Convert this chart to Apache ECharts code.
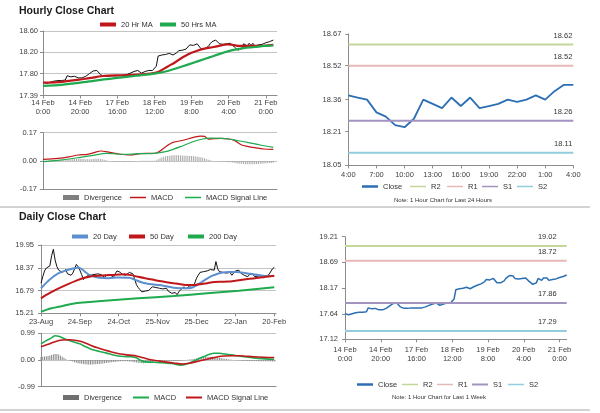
<!DOCTYPE html>
<html><head><meta charset="utf-8">
<script src="https://cdn.jsdelivr.net/npm/echarts@6/dist/echarts.min.js"></script>
<style>html,body{margin:0;padding:0;background:#fff}#c{width:600px;height:413px}</style>
</head><body><div id="c"></div>
<script>
// ---------- tick labels ----------
const hourTicks = ['14 Feb\n0:00','14 Feb\n20:00','17 Feb\n16:00','18 Feb\n12:00','19 Feb\n8:00','20 Feb\n4:00','21 Feb\n0:00'];
const last24Ticks = ['4:00','7:00','10:00','13:00','16:00','19:00','22:00','1:00','4:00'];
const dayTicks = ['23-Aug','24-Sep','24-Oct','25-Nov','25-Dec','22-Jan','20-Feb'];
const hourPriceTicks = [17.39, 17.80, 18.20, 18.60];
const last24PriceTicks = [18.05, 18.21, 18.36, 18.52, 18.67];
const weekPriceTicks = [17.12, 17.64, 18.17, 18.69, 19.21];
const dayPriceTicks = [15.21, 16.79, 18.37, 19.95];

// ---------- hourly data (index = hour since 14 Feb 0:00) ----------
const hourlyClose = [
17.64,17.63,17.62,17.62,17.64,17.65,17.66,17.67,17.67,17.67,
17.67,17.68,17.68,17.76,17.75,17.74,17.74,17.75,17.74,17.72,
17.72,17.72,17.73,17.75,17.78,17.80,17.82,17.85,17.85,17.86,
17.85,17.78,17.76,17.75,17.74,17.75,17.76,17.76,17.76,17.76,
17.76,17.76,17.76,17.76,17.77,17.78,17.79,17.81,17.83,17.84,
17.86,17.86,17.83,17.81,17.82,17.84,17.86,17.86,17.85,17.86,
17.88,17.94,18.13,18.14,18.15,18.16,18.16,18.17,18.18,18.17,
18.15,18.14,18.19,18.23,18.22,18.24,18.25,18.26,18.29,18.34,
18.32,18.33,18.32,18.36,18.33,18.27,18.26,18.27,18.29,18.31,
18.36,18.40,18.42,18.43,18.41,18.36,18.33,18.35,18.36,18.36,
18.38,18.37,18.36,18.30,18.28,18.24,18.23,18.27,18.36,18.34,
18.32,18.37,18.33,18.37,18.32,18.33,18.34,18.36,18.35,18.36,
18.38,18.36,18.40,18.43,18.43];
const ma20Hr = [[0,17.63],[8,17.64],[15,17.67],[22,17.70],[26,17.72],[33,17.76],[42,17.77],[51,17.78],[58,17.80],[62,17.83],[65,17.89],[68,17.95],[71,18.01],[74,18.08],[77,18.14],[80,18.19],[83,18.23],[87,18.27],[92,18.30],[96,18.33],[99,18.35],[102,18.34],[106,18.32],[110,18.32],[114,18.32],[118,18.32],[121,18.33],[124,18.34]];
const ma50Hr = [[0,17.57],[10,17.59],[20,17.63],[30,17.68],[40,17.72],[50,17.76],[60,17.80],[66,17.84],[72,17.90],[78,17.97],[84,18.04],[90,18.11],[96,18.18],[102,18.24],[108,18.28],[114,18.30],[119,18.32],[124,18.33]];
const macdHr = [[0,0.010],[8,0.016],[14,0.025],[19,0.036],[24,0.040],[28,0.052],[31,0.060],[36,0.052],[41,0.042],[47,0.036],[52,0.044],[61,0.048],[63,0.060],[65,0.076],[68,0.100],[70,0.112],[76,0.126],[81,0.142],[85,0.150],[87,0.148],[89,0.132],[92,0.134],[96,0.136],[100,0.132],[103,0.124],[105,0.110],[107,0.096],[110,0.088],[114,0.080],[119,0.072],[124,0.070]];
const signalHr = [[0,-0.004],[8,0.004],[14,0.012],[20,0.022],[27,0.034],[34,0.046],[40,0.042],[46,0.040],[53,0.044],[60,0.046],[66,0.056],[70,0.070],[74,0.086],[78,0.104],[82,0.120],[86,0.132],[90,0.137],[96,0.136],[100,0.132],[104,0.124],[110,0.112],[117,0.096],[124,0.082]];
const divHr = [
0.002,0.002,0.003,0.003,0.004,0.004,0.005,0.005,0.006,0.006,
0.007,0.007,0.008,0.009,0.010,0.010,0.011,0.012,0.012,0.013,
0.013,0.012,0.012,0.011,0.010,0.010,0.011,0.012,0.013,0.014,
0.014,0.012,0.010,0.008,0.005,0.002,0.000,-0.002,-0.003,-0.004,
-0.005,-0.005,-0.005,-0.006,-0.006,-0.005,-0.005,-0.004,-0.003,-0.002,
-0.001,0.000,0.000,0.001,0.001,0.001,0.002,0.002,0.002,0.002,
0.002,0.004,0.010,0.016,0.021,0.025,0.028,0.030,0.032,0.033,
0.034,0.035,0.034,0.034,0.033,0.033,0.032,0.032,0.031,0.030,
0.030,0.029,0.028,0.026,0.024,0.022,0.019,0.016,0.012,0.008,
0.004,0.002,0.000,-0.001,-0.002,-0.002,-0.003,-0.004,-0.005,-0.006,
-0.007,-0.008,-0.009,-0.011,-0.013,-0.015,-0.016,-0.017,-0.018,-0.019,
-0.019,-0.020,-0.020,-0.019,-0.019,-0.018,-0.018,-0.017,-0.016,-0.015,
-0.014,-0.013,-0.012,-0.012,-0.011];

// ---------- pivot levels ----------
const levelNames = ['R2','R1','S1','S2'];
const levels24h = [18.62, 18.52, 18.26, 18.11];
const levelsWeek = [19.02, 18.72, 17.86, 17.29];

// ---------- daily data (index = trading day since 23-Aug) ----------
const dailyClose = [
17.30,17.75,18.15,18.35,18.25,18.50,19.20,19.65,18.90,18.45,
18.20,18.30,18.05,18.15,18.25,17.95,18.05,17.85,18.00,18.30,
18.60,18.45,18.20,17.90,17.55,17.65,17.80,17.70,17.85,17.75,
17.90,17.80,17.95,17.85,17.90,17.80,17.70,17.85,17.75,17.90,
17.80,17.70,17.95,18.15,18.25,18.05,17.90,17.95,17.85,17.95,
18.05,18.00,17.95,17.60,17.20,17.00,16.85,16.70,16.80,16.75,
16.65,16.80,16.90,17.05,17.15,17.00,17.10,16.95,17.05,16.90,
16.80,16.95,16.75,16.85,16.60,16.55,16.65,16.50,16.70,16.85,
16.95,17.05,16.90,17.00,17.10,17.05,17.15,17.30,17.65,17.85,
18.05,17.95,18.10,18.00,18.15,18.05,18.25,18.35,18.20,18.80,
18.30,18.10,18.20,18.05,17.95,18.00,17.90,18.05,17.85,18.00,
18.15,18.05,18.20,18.00,18.10,17.85,17.95,17.75,17.90,17.80,
17.90,17.75,17.85,17.80,17.90,17.80,17.85,17.75,17.85,17.90,
17.85,18.30,18.40];
const ma20Day = [[0,16.94],[5,17.55],[10,17.99],[15,18.22],[19,18.34],[21,18.38],[23,18.28],[25,18.08],[27,17.90],[30,17.76],[33,17.68],[38,17.65],[44,17.70],[50,17.68],[53,17.55],[56,17.40],[59,17.29],[63,17.22],[67,17.17],[71,17.08],[75,16.99],[79,16.95],[83,16.94],[86,17.02],[88,17.15],[91,17.38],[94,17.62],[97,17.82],[100,17.96],[103,18.04],[106,18.07],[110,18.07],[113,18.05],[117,17.98],[120,17.92],[124,17.85],[128,17.80],[132,17.80]];
const ma50Day = [[0,16.25],[5,16.62],[10,16.94],[15,17.22],[20,17.48],[24,17.66],[28,17.77],[33,17.82],[40,17.87],[47,17.92],[51,17.86],[55,17.74],[59,17.64],[63,17.55],[67,17.45],[71,17.37],[75,17.29],[79,17.22],[83,17.17],[87,17.18],[90,17.22],[94,17.30],[98,17.38],[102,17.40],[106,17.41],[110,17.47],[114,17.54],[118,17.60],[122,17.66],[126,17.72],[130,17.78],[132,17.82]];
const ma200Day = [[0,15.32],[3,15.45],[6,15.56],[10,15.66],[18,15.88],[36,16.08],[55,16.25],[75,16.41],[94,16.60],[112,16.78],[132,17.02]];
const macdDay = [[0,0.60],[3,0.72],[6,0.82],[8,0.90],[10,0.88],[13,0.80],[16,0.72],[19,0.66],[22,0.60],[25,0.50],[28,0.41],[31,0.35],[35,0.29],[39,0.22],[43,0.16],[47,0.13],[51,0.12],[54,0.08],[56,0.00],[58,-0.06],[62,-0.08],[66,-0.09],[70,-0.11],[74,-0.13],[79,-0.19],[82,-0.16],[85,-0.08],[88,0.01],[92,0.12],[95,0.20],[98,0.25],[101,0.25],[104,0.22],[108,0.19],[111,0.16],[115,0.12],[119,0.09],[123,0.06],[127,0.04],[132,0.03]];
const signalDay = [[0,0.49],[4,0.58],[8,0.68],[12,0.74],[16,0.75],[20,0.72],[24,0.66],[28,0.55],[32,0.45],[36,0.37],[40,0.30],[45,0.22],[50,0.18],[54,0.15],[58,0.08],[62,0.01],[66,-0.03],[70,-0.07],[75,-0.11],[80,-0.15],[84,-0.12],[88,-0.06],[92,0.00],[96,0.06],[100,0.12],[104,0.15],[108,0.16],[112,0.16],[116,0.14],[120,0.12],[126,0.10],[132,0.09]];
const divDay = [
0.11,0.12,0.13,0.14,0.15,0.17,0.19,0.21,0.22,0.22,
0.20,0.16,0.12,0.08,0.04,0.00,-0.02,-0.04,-0.06,-0.08,
-0.10,-0.12,-0.13,-0.14,-0.15,-0.16,-0.17,-0.17,-0.17,-0.17,
-0.16,-0.16,-0.15,-0.15,-0.14,-0.13,-0.12,-0.11,-0.10,-0.09,
-0.08,-0.07,-0.07,-0.06,-0.06,-0.05,-0.05,-0.05,-0.05,-0.05,
-0.06,-0.06,-0.07,-0.08,-0.09,-0.10,-0.11,-0.12,-0.12,-0.11,
-0.10,-0.09,-0.08,-0.07,-0.06,-0.05,-0.05,-0.04,-0.04,-0.04,
-0.04,-0.04,-0.03,-0.03,-0.03,-0.04,-0.04,-0.04,-0.04,-0.03,
-0.02,-0.01,0.00,0.01,0.02,0.03,0.04,0.05,0.06,0.07,
0.08,0.09,0.10,0.11,0.12,0.12,0.12,0.12,0.11,0.10,
0.09,0.08,0.07,0.06,0.05,0.04,0.03,0.02,0.01,0.00,
-0.01,-0.01,-0.02,-0.02,-0.03,-0.03,-0.03,-0.04,-0.04,-0.04,
-0.04,-0.04,-0.04,-0.05,-0.05,-0.05,-0.05,-0.05,-0.05,-0.05,
-0.06,-0.06,-0.06];

// ---------- styling ----------
const FONT = "'Liberation Sans', Arial, sans-serif";
const AX = '#8c8c8c', GRIDC = '#c4c4c4', TXT = '#404040';
const RED = '#c0171b', GREEN = '#1faa4f', BLUE20 = '#5b8fcf', CLOSE = '#2c6fb3';
const levelColors = ['#c4d79b', '#e6b9b8', '#a393c0', '#92cddc'];

const idxCats = n => Array.from({length: n}, (_, i) => String(i));
const hourCats = idxCats(127), weekCats = idxCats(125), last24Cats = idxCats(25), dayCats = idxCats(134);

function catAxis(gi, cats, every, labels, show, margin) {
  return {type:'category', gridIndex:gi, data:cats, boundaryGap:false,
    axisLine:{show:true, onZero:false, lineStyle:{color:AX}},
    axisTick:{show:show, interval:every-1, length:3, lineStyle:{color:AX}},
    axisLabel:{show:show, interval:every-1, fontSize:7.5, color:TXT, fontFamily:FONT, margin:margin, lineHeight:9,
      formatter:(v, i) => labels[i / every] || ''},
    splitLine:{show:false}};
}
function valAxis(gi, min, max, ticks, interval, split, margin) {
  const a = {type:'value', gridIndex:gi, min:min, max:max,
    axisLine:{show:true, lineStyle:{color:AX}},
    axisTick:{show:true, length:3, lineStyle:{color:AX}},
    axisLabel:{fontSize:7.5, color:TXT, fontFamily:FONT, margin:margin, formatter: v => v.toFixed(2)},
    splitLine:{show:split, lineStyle:{color:GRIDC, width:1}}};
  if (ticks) { a.axisLabel.customValues = ticks; a.axisTick.customValues = ticks; a.splitNumber = ticks.length - 1; }
  else { a.interval = interval; }
  return a;
}
function line(name, xi, data, color, width) {
  return {name:name, type:'line', xAxisIndex:xi, yAxisIndex:xi, data:data, symbol:'none', color:color,
    lineStyle:{color:color, width:width}, silent:true};
}
function levelSeries(vals, xi, lastIdx, offX) {
  return levelNames.map((n, k) => ({
    name:n, type:'line', xAxisIndex:xi, yAxisIndex:xi, symbol:'none', color:levelColors[k], silent:true,
    lineStyle:{color:levelColors[k], width:2},
    data:[[0, vals[k]], [lastIdx, vals[k]]],
    endLabel:{show:true, formatter: p => p.value[1].toFixed(2), align:'right', verticalAlign:'middle',
      offset:[offX, -9], fontSize:7.5, color:'#333', fontFamily:FONT}
  }));
}

const grids = [
  {left:43, top:31, width:234, height:64.5},      // 0 hourly price
  {left:43, top:132.7, width:234, height:56.6},   // 1 hourly macd
  {left:348.3, top:33.9, width:225, height:131.5},// 2 last 24h
  {left:41, top:245, width:235, height:68.3},     // 3 daily price
  {left:41, top:333.3, width:235, height:53.4},   // 4 daily macd
  {left:345, top:236.7, width:221.7, height:102.6}// 5 last week
].map(g => Object.assign(g, {outerBoundsMode:'none', containLabel:false}));

const xAxes = [
  catAxis(0, hourCats, 20, hourTicks, true, 3),
  catAxis(1, hourCats, 20, hourTicks, false, 3),
  catAxis(2, last24Cats, 3, last24Ticks, true, 5),
  catAxis(3, dayCats, 22, dayTicks, true, 4),
  catAxis(4, dayCats, 22, dayTicks, false, 4),
  catAxis(5, weekCats, 20, hourTicks, true, 6)
];
const yAxes = [
  valAxis(0, 17.39, 18.60, hourPriceTicks, null, true, 5),
  valAxis(1, -0.17, 0.17, null, 0.17, true, 6),
  valAxis(2, 18.05, 18.67, last24PriceTicks, null, false, 7),
  valAxis(3, 15.21, 19.95, dayPriceTicks, null, true, 7),
  valAxis(4, -0.99, 0.99, null, 0.99, true, 6),
  valAxis(5, 17.12, 19.21, weekPriceTicks, null, false, 7)
];

const series = [
  line('Hourly Bars', 0, hourlyClose, '#111', 1),
  Object.assign(line('20 Hr MA', 0, ma20Hr, RED, 2.2), {smooth:0.3}),
  Object.assign(line('50 Hrs MA', 0, ma50Hr, GREEN, 2.2), {smooth:0.3}),
  {name:'Divergence', type:'bar', xAxisIndex:1, yAxisIndex:1, data:divHr, barWidth:1, color:'#a8a8a8', itemStyle:{color:'#a8a8a8'}, silent:true},
  Object.assign(line('MACD', 1, macdHr, RED, 1.2), {smooth:0.3}),
  Object.assign(line('MACD Signal Line', 1, signalHr, GREEN, 1.2), {smooth:0.3}),
  line('Close', 2, hourlyClose.slice(100), CLOSE, 1.8),
  ...levelSeries(levels24h, 2, 24, -9),
  line('Daily Bars', 3, dailyClose, '#111', 1),
  Object.assign(line('20 Day', 3, ma20Day, BLUE20, 2), {smooth:0.3}),
  Object.assign(line('50 Day', 3, ma50Day, RED, 2), {smooth:0.3}),
  Object.assign(line('200 Day', 3, ma200Day, GREEN, 2), {smooth:0.3}),
  {name:'Divergence', type:'bar', xAxisIndex:4, yAxisIndex:4, data:divDay, barWidth:1, color:'#8a8a8a', itemStyle:{color:'#8a8a8a'}, silent:true},
  Object.assign(line('MACD', 4, macdDay, GREEN, 1.6), {smooth:0.3}),
  Object.assign(line('MACD Signal Line', 4, signalDay, RED, 1.6), {smooth:0.3}),
  line('Close', 5, hourlyClose, CLOSE, 1.5),
  ...levelSeries(levelsWeek, 5, 124, -18)
];

// legend items: [name, left, centerY, icon colour, icon thickness]
const legendItems = [
  ['20 Hr MA', 100, 25, RED, 4],
  ['50 Hrs MA', 160, 25, GREEN, 4],
  ['Divergence', 63, 198, '#7f7f7f', 5],
  ['MACD', 130, 198, RED, 1.5],
  ['MACD Signal Line', 185, 198, GREEN, 1.5],
  ['Close', 362, 187, CLOSE, 2.5],
  ['R2', 410, 187, levelColors[0], 1.5],
  ['R1', 447, 187, levelColors[1], 1.5],
  ['S1', 482, 187, levelColors[2], 1.5],
  ['S2', 517, 187, levelColors[3], 1.5],
  ['20 Day', 72, 237, BLUE20, 4],
  ['50 Day', 129, 237, RED, 4],
  ['200 Day', 188, 237, GREEN, 4],
  ['Divergence', 63, 398, '#6f6f6f', 5],
  ['MACD', 133, 398, GREEN, 2],
  ['MACD Signal Line', 186, 398, RED, 2],
  ['Close', 357, 385, CLOSE, 2.5],
  ['R2', 402, 385, levelColors[0], 1.5],
  ['R1', 437, 385, levelColors[1], 1.5],
  ['S1', 472, 385, levelColors[2], 2],
  ['S2', 508, 385, levelColors[3], 1.5]
];
const legends = legendItems.map(([name, left, cy, col, h]) => ({
  left:left, top:cy - 4.5, padding:0, itemWidth:16, itemHeight:h, itemGap:0, selectedMode:false,
  data:[{name:name, icon:'rect', itemStyle:{color:col, borderWidth:0}}],
  textStyle:{fontSize:7.5, color:'#333', fontFamily:FONT}
}));

const titles = [
  {text:'Hourly Close Chart', left:14, top:1, textStyle:{fontSize:10.5, fontWeight:'bold', color:'#1a1a1a', fontFamily:FONT}},
  {text:'Daily Close Chart', left:14, top:207, textStyle:{fontSize:10.5, fontWeight:'bold', color:'#1a1a1a', fontFamily:FONT}},
  {text:'Note: 1 Hour Chart for Last 24 Hours', left:394, top:197, padding:0, textStyle:{fontSize:6, fontWeight:'normal', color:'#333', fontFamily:FONT}},
  {text:'Note: 1 Hour Chart for Last 1 Week', left:392, top:394, padding:0, textStyle:{fontSize:6, fontWeight:'normal', color:'#333', fontFamily:FONT}}
];

const chart = echarts.init(document.getElementById('c'), null, {renderer:'canvas', width:600, height:413});
chart.setOption({
  animation:false,
  backgroundColor:'#ffffff',
  title:titles,
  legend:legends,
  grid:grids,
  xAxis:xAxes,
  yAxis:yAxes,
  series:series,
  graphic:[
    {type:'line', shape:{x1:0, y1:207, x2:590, y2:207}, style:{stroke:'#a6a6a6', lineWidth:1}, silent:true},
    {type:'line', shape:{x1:0, y1:410, x2:590, y2:410}, style:{stroke:'#a6a6a6', lineWidth:1}, silent:true}
  ]
});
</script>
</body></html>
